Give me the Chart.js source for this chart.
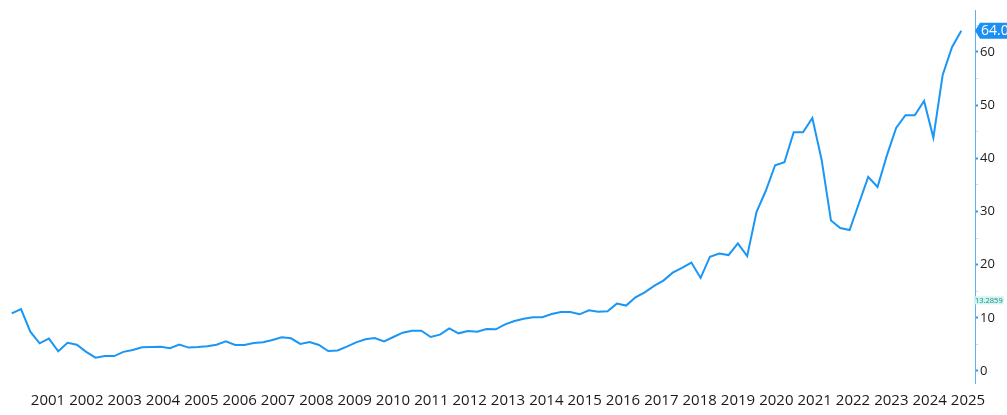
<!DOCTYPE html>
<html>
<head>
<meta charset="utf-8">
<script src="https://cdn.jsdelivr.net/npm/chart.js@4.4.0/dist/chart.umd.min.js"></script>
<style>
  html, body { margin: 0; padding: 0; background: #ffffff; }
  #wrap { width: 1007px; height: 415px; position: relative; }
</style>
</head>
<body>
<div id="wrap"><canvas id="c"></canvas></div>
<script>
// ---- data ----
const values = [
  10.85, 11.66, 7.4, 5.2, 6.1, 3.7, 5.3, 4.95, 3.6, 2.5,
  2.8, 2.8, 3.6, 3.95, 4.45, 4.5, 4.57, 4.27, 4.95, 4.4,
  4.5, 4.65, 4.95, 5.58, 4.9, 4.9, 5.25, 5.4, 5.83, 6.33,
  6.15, 5.08, 5.45, 4.9, 3.76, 3.85, 4.57, 5.39, 5.95, 6.2,
  5.58, 6.39, 7.2, 7.58, 7.58, 6.39, 6.83, 8.02, 7.08, 7.52,
  7.4, 7.9, 7.83, 8.77, 9.4, 9.84, 10.1, 10.1, 10.72, 11.1,
  11.1, 10.66, 11.4, 11.16, 11.22, 12.67, 12.3, 13.85, 14.8, 16.0,
  17.0, 18.5, 19.4, 20.4, 17.5, 21.5, 22.1, 21.8, 24.0, 21.6,
  29.9, 33.9, 38.7, 39.25, 44.9, 44.9, 47.6, 39.7, 28.3, 26.9,
  26.5, 31.5, 36.5, 34.6, 40.5, 45.7, 48.1, 48.1, 50.8, 43.9,
  55.7, 60.9, 64.0
];
const firstPeriod = 2000.053;   // time of first observation (years)
const periodLength = 0.24287;   // years between observations
const yearLabels = [2001,2002,2003,2004,2005,2006,2007,2008,2009,2010,2011,2012,2013,
                    2014,2015,2016,2017,2018,2019,2020,2021,2022,2023,2024,2025];
const yTicks = [0,5,10,15,20,25,30,35,40,45,50,55,60,65];
const markerValue = 13.2859;
const lastValueLabel = values[values.length - 1].toFixed(1);

const points = values.map((v, i) => ({ x: firstPeriod + i * periodLength, y: v }));

const tagPlugin = {
  id: 'tags',
  afterDraw(chart) {
    const ctx = chart.ctx;
    const ys = chart.scales.y;
    const axisX = ys.left;
    // last value tag
    const yc = ys.getPixelForValue(values[values.length - 1]);
    ctx.save();
    ctx.fillStyle = '#1b8ff2';
    ctx.beginPath();
    ctx.moveTo(axisX, yc);
    ctx.lineTo(axisX + 5, yc - 8);
    ctx.lineTo(axisX + 40, yc - 8);
    ctx.lineTo(axisX + 40, yc + 8);
    ctx.lineTo(axisX + 5, yc + 8);
    ctx.closePath();
    ctx.fill();
    ctx.fillStyle = '#ffffff';
    ctx.font = '14px "Open Sans", sans-serif';
    ctx.textBaseline = 'middle';
    ctx.textAlign = 'left';
    ctx.fillText(lastValueLabel, axisX + 6, yc + 0.5);
    // marker tag
    const ym = ys.getPixelForValue(markerValue);
    ctx.font = '7.5px "Open Sans", sans-serif';
    const w = ctx.measureText(String(markerValue)).width;
    ctx.fillStyle = '#cdf5ef';
    ctx.fillRect(axisX - 1, ym - 4, w + 2, 8);
    ctx.fillStyle = '#2f8585';
    ctx.fillText(String(markerValue), axisX, ym + 0.5);
    ctx.restore();
  }
};

new Chart(document.getElementById('c'), {
  type: 'line',
  data: {
    datasets: [{
      data: points,
      borderColor: '#1a96f5',
      borderWidth: 2,
      pointRadius: 0,
      fill: false,
      tension: 0
    }]
  },
  options: {
    responsive: true,
    maintainAspectRatio: false,
    animation: false,
    layout: { padding: { left: 0, right: 0, top: 10, bottom: 0 } },
    plugins: { legend: { display: false }, tooltip: { enabled: false } },
    scales: {
      x: {
        type: 'linear',
        min: 1999.748,
        max: 2025.183,
        afterBuildTicks(scale) { scale.ticks = yearLabels.map(v => ({ value: v })); },
        afterFit(scale) { scale.height = 32; },
        grid: { display: false, drawTicks: false },
        border: { display: false },
        ticks: {
          autoSkip: false,
          maxRotation: 0,
          padding: 9,
          color: '#1a1a1a',
          font: { family: '"Open Sans", sans-serif', size: 15 },
          callback: v => String(v)
        }
      },
      y: {
        position: 'right',
        min: -2.26,
        max: 67.9,
        afterBuildTicks(scale) { scale.ticks = yTicks.map(v => ({ value: v })); },
        afterFit(scale) { scale.width = 32; },
        grid: {
          drawOnChartArea: false,
          drawTicks: true,
          tickLength: 3,
          tickColor: c => (c.tick && c.tick.value % 10 === 0) ? '#2f9af0' : '#bfe0f8',
          tickWidth: c => (c.tick && c.tick.value % 10 === 0) ? 2 : 1
        },
        border: { display: true, color: '#5cb2f5', width: 1 },
        ticks: {
          autoSkip: false,
          padding: 2,
          color: '#1a1a1a',
          font: { family: '"Open Sans", sans-serif', size: 13 },
          callback: v => (v % 10 === 0 ? String(v) : '')
        }
      }
    }
  },
  plugins: [tagPlugin]
});
</script>
</body>
</html>
